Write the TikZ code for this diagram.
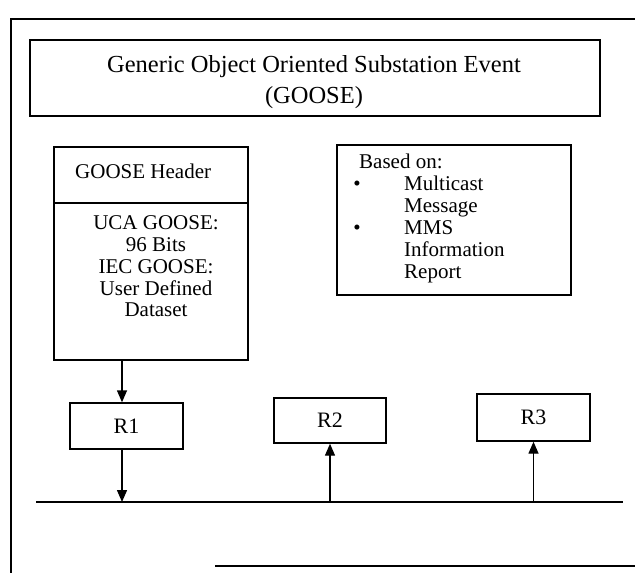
\documentclass[tikz,border=0pt]{standalone}
\usepackage{fontspec}
\setmainfont{Liberation Serif}
\usetikzlibrary{arrows.meta}
\begin{document}
\begin{tikzpicture}[x=1pt,y=-1pt,
  box/.style={draw, line width=1.4pt, inner sep=0pt},
  frame/.style={line width=1.4pt},
  txt/.style={inner sep=0pt, font=\fontsize{21}{21.7}\selectfont},
  item/.style={txt, anchor=base west},
  rbox/.style={box, minimum width=113pt, font=\fontsize{22}{26}\selectfont},
  link/.style={line width=1.4pt, -{Triangle[length=12pt,width=10pt]}},
]
\useasboundingbox (0,0) rectangle (635,573);

% outer frame
\draw[frame] (635,19) -- (11,19) -- (11,573);
\draw[frame] (215,566) -- (635,566);

% title
\node[box, minimum width=570pt, minimum height=76pt] (title) at (315,78) {};
\node[align=center, inner sep=0pt, font=\fontsize{24.5}{31}\selectfont] (titletext) at (314,82)
  {Generic Object Oriented Substation Event\\(GOOSE)};

% GOOSE header / payload block
\node[box, minimum width=194pt, minimum height=213pt] (hdr) at (151,253.5) {};
\coordinate (split) at (0,203);
\draw[frame] (hdr.west |- split) -- (hdr.east |- split);
\node[txt, anchor=west] (hdrtitle) at (75,171) {GOOSE Header};
\node[txt, align=center] (payload) at (156,266.5)
  {UCA GOOSE:\\96 Bits\\IEC GOOSE:\\User Defined\\Dataset};

% basis block
\node[box, minimum width=234pt, minimum height=150pt] (based) at (454,220) {};
\node[item] (b0) at (359,168) {Based on:};
\node[txt, anchor=base] (d1) at (357,190) {\textbullet};
\node[item] (b1) at (404,190) {Multicast};
\node[item] (b2) at (404,212) {Message};
\node[txt, anchor=base] (d2) at (357,234) {\textbullet};
\node[item] (b3) at (404,234) {MMS};
\node[item] (b4) at (404,256) {Information};
\node[item] (b5) at (404,278) {Report};

% receivers
\node[rbox, minimum height=46pt] (r1) at (126.5,426) {R1};
\node[rbox, minimum height=45pt, minimum width=112pt] (r2) at (330,420.5) {R2};
\node[rbox, minimum height=47pt] (r3) at (533.5,417.5) {R3};

% bus
\coordinate (busL) at (36,502);
\coordinate (busR) at (623,502);
\draw[frame] (busL) -- (busR);

% connectors
\coordinate (a1) at (122,0);
\draw[link] (hdr.south -| a1) -- (r1.north -| a1);
\draw[link] (r1.south -| a1) -- (busL -| a1);
\draw[link] (busL -| r2.south) -- (r2.south);
\draw[link] (busL -| r3.south) -- (r3.south);
\end{tikzpicture}
\end{document}
